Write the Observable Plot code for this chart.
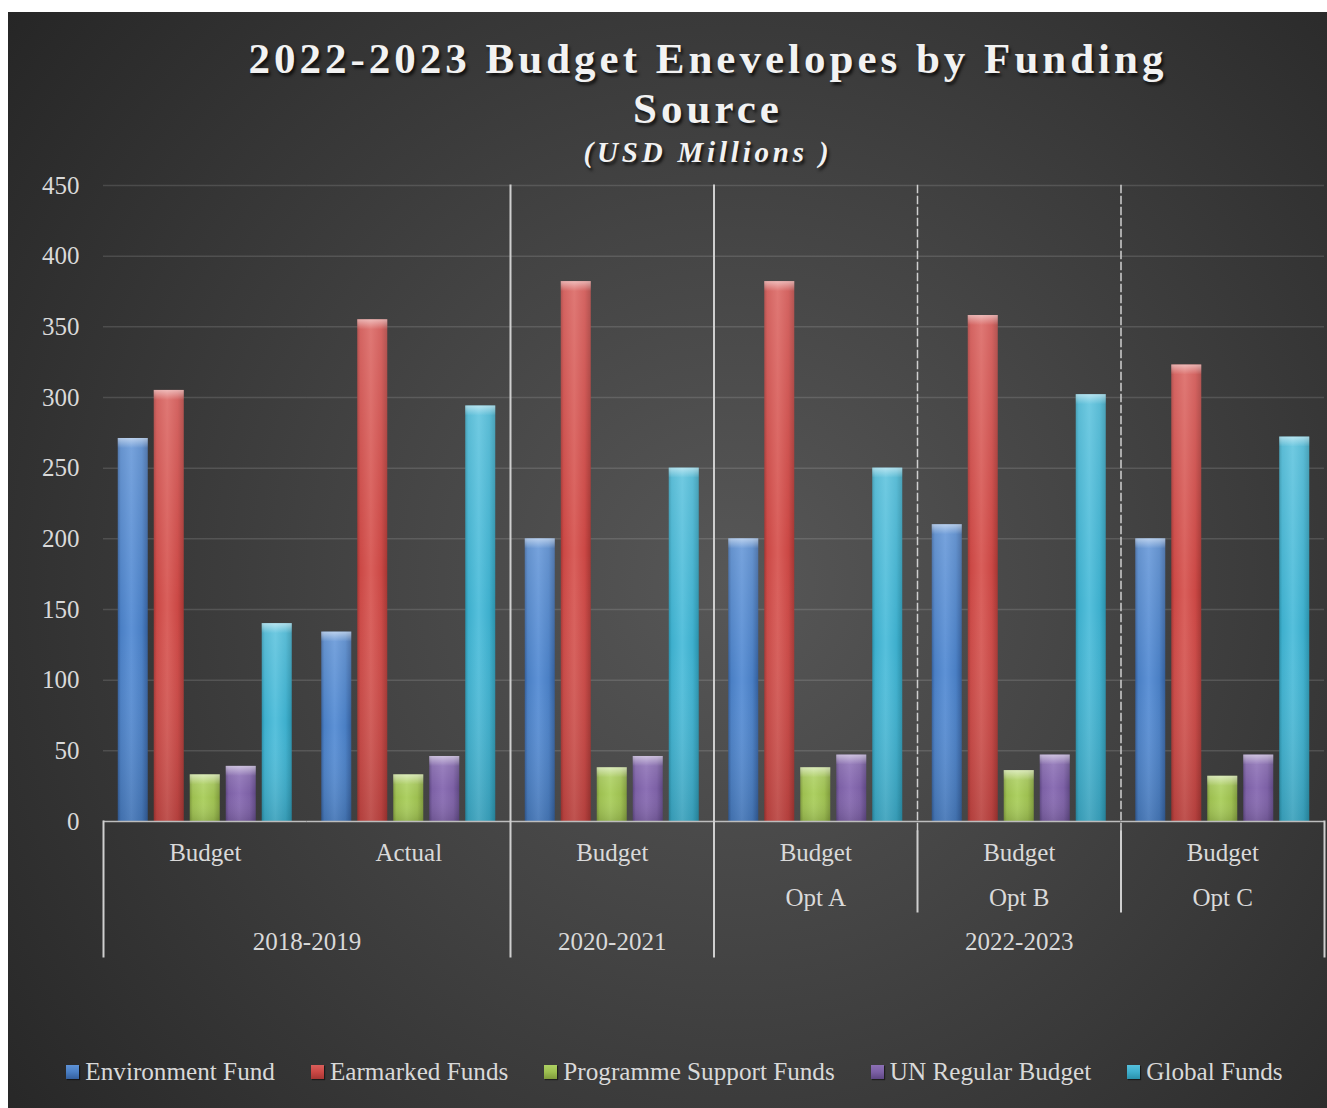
<!DOCTYPE html>
<html>
<head>
<meta charset="utf-8">
<script src="https://cdn.jsdelivr.net/npm/d3@7"></script>
<script src="https://cdn.jsdelivr.net/npm/@observablehq/plot@0.6"></script>
<style>
  html, body { margin: 0; padding: 0; background: #ffffff; }
  #chart {
    position: absolute; left: 8px; top: 12px; width: 1319px; height: 1096px; overflow: hidden;
    background: radial-gradient(circle farthest-corner at 55% 52%, #575757 0%, #444444 40%, #262626 100%);
    font-family: "Liberation Serif", "Times New Roman", serif;
  }
  #title {
    position: absolute; left: 0; width: 1400px; top: 22px; text-align: center;
    font-size: 43px; line-height: 50px; font-weight: bold; letter-spacing: 4px;
    color: #f2f2f2; text-shadow: 2px 3px 3px rgba(0,0,0,0.7);
  }
  #subtitle {
    position: absolute; left: 0; width: 1400px; top: 123px; text-align: center;
    font-size: 29px; line-height: 34px; font-weight: bold; font-style: italic; letter-spacing: 3.8px;
    color: #f2f2f2; text-shadow: 2px 3px 3px rgba(0,0,0,0.7);
  }
  #plot { position: absolute; left: 0; top: 150px; }
  #legend {
    position: absolute; left: 7px; width: 1319px; top: 1043px; height: 34px;
    display: flex; justify-content: center; align-items: center; gap: 36px;
    color: #d9d9d9; font-size: 25.2px;
  }
  .item { display: flex; align-items: center; white-space: nowrap; }
  .sw { width: 13px; height: 14px; margin-right: 6px; box-shadow: 1px 1px 1px rgba(0,0,0,0.5); }
</style>
</head>
<body>
<div id="chart">
  <div id="title">2022-2023 Budget Enevelopes by Funding<br>Source</div>
  <div id="subtitle">(USD Millions )</div>
  <div id="plot"></div>
  <div id="legend"></div>
</div>
<script>
// ---- data ----
const groupKeys = ["2018-2019 Budget", "2018-2019 Actual", "2020-2021 Budget", "2022-2023 Budget Opt A", "2022-2023 Budget Opt B", "2022-2023 Budget Opt C"];
const level1 = ["Budget", "Actual", "Budget", "Budget", "Budget", "Budget"];
const level2 = ["", "", "", "Opt A", "Opt B", "Opt C"];
const periods = ["2018-2019", "2020-2021", "2022-2023"];
const periodFirst = [0, 2, 3];
const periodLast = [1, 2, 5];
const series = ["Environment Fund", "Earmarked Funds", "Programme Support Funds", "UN Regular Budget", "Global Funds"];
const environmentFund = [271, 134, 200, 200, 210, 200];
const earmarkedFunds = [305, 355, 382, 382, 358, 323];
const programmeSupportFunds = [33, 33, 38, 38, 36, 32];
const unRegularBudget = [39, 46, 46, 47, 47, 47];
const globalFunds = [140, 294, 250, 250, 302, 272];
const yTicks = [0, 50, 100, 150, 200, 250, 300, 350, 400, 450];

// colours: [dark edge, base, light]
const seriesColors = [
  ["#345f9c", "#4a7fc4", "#5e92d6"],
  ["#a53633", "#cb4845", "#d95f5b"],
  ["#7e9a3b", "#9dbf50", "#add062"],
  ["#5e4783", "#7c60a5", "#8c70b5"],
  ["#2a91ab", "#3eafcd", "#56c0dc"]
];

const valuesBySeries = [environmentFund, earmarkedFunds, programmeSupportFunds, unRegularBudget, globalFunds];
const rows = [];
groupKeys.forEach((g, gi) => {
  series.forEach((s, si) => rows.push({group: g, series: s, value: valuesBySeries[si][gi]}));
});
const level1Rows = groupKeys.map((g, i) => ({group: g, label: level1[i]}));
const level2Rows = groupKeys.map((g, i) => ({group: g, label: level2[i]})).filter(d => d.label);
// spanning period labels: centre of an odd span is the middle facet, of an even span the edge between the two middle facets
const periodRows = periods.map((p, i) => {
  const n = periodLast[i] - periodFirst[i] + 1;
  const mid = periodFirst[i] + Math.floor((n - 1) / 2);
  return {group: groupKeys[mid], label: p, even: n % 2 === 0};
});

const lineColor = "#cfcfcf";
const labelStyle = {fx: "group", text: "label", textAnchor: "middle", lineAnchor: "middle", fill: "#d9d9d9"};

const chart = Plot.plot({
  width: 1319,
  height: 830,
  marginTop: 23,
  marginBottom: 171,
  marginLeft: 95,
  marginRight: 3,
  style: {background: "transparent", color: "#d9d9d9", fontFamily: "'Liberation Serif', 'Times New Roman', serif", fontSize: "25px", overflow: "visible"},
  fx: {domain: groupKeys, padding: 0, round: false, axis: null},
  x: {domain: series, paddingInner: 1 / 6, paddingOuter: 0.41, round: false, axis: null},
  y: {domain: [0, 450], ticks: yTicks, tickSize: 0, tickPadding: 24, label: null},
  color: {domain: series, range: series.map((_, i) => `url(#body${i})`)},
  marks: [
    Plot.ruleY(yTicks.slice(1), {stroke: "#ffffff", strokeOpacity: 0.13, strokeWidth: 1.5}),
    Plot.barY(rows, {fx: "group", x: "series", y: "value", fill: "series", ariaLabel: "bar-body"}),
    Plot.barY(rows, {fx: "group", x: "series", y: "value", fill: "url(#shade)"}),
    Plot.barY(rows, {fx: "group", x: "series", y1: "value", y2: "value", insetBottom: -10, fill: "url(#cap)"}),
    Plot.ruleY([0], {stroke: "#bdbdbd", strokeWidth: 1.5}),
    // separators in the plot area and the multi-level category box
    Plot.frame({fx: groupKeys[2], anchor: "left", insetBottom: -135, stroke: lineColor, strokeWidth: 2}),
    Plot.frame({fx: groupKeys[3], anchor: "left", insetBottom: -135, stroke: lineColor, strokeWidth: 2}),
    Plot.frame({fx: groupKeys[4], anchor: "left", insetBottom: -10, stroke: lineColor, strokeWidth: 1.5, strokeDasharray: "7,4"}),
    Plot.frame({fx: groupKeys[5], anchor: "left", insetBottom: -10, stroke: lineColor, strokeWidth: 1.5, strokeDasharray: "7,4"}),
    Plot.frame({fx: groupKeys[4], anchor: "left", insetTop: 646, insetBottom: -90, stroke: lineColor, strokeWidth: 2}),
    Plot.frame({fx: groupKeys[5], anchor: "left", insetTop: 646, insetBottom: -90, stroke: lineColor, strokeWidth: 2}),
    Plot.frame({fx: groupKeys[0], anchor: "left", insetTop: 636, insetBottom: -135, stroke: lineColor, strokeWidth: 2}),
    Plot.frame({fx: groupKeys[5], anchor: "right", insetTop: 636, insetBottom: -135, stroke: lineColor, strokeWidth: 2}),
    // category labels
    Plot.text(level1Rows, {...labelStyle, frameAnchor: "bottom", dy: 31}),
    Plot.text(level2Rows, {...labelStyle, frameAnchor: "bottom", dy: 76}),
    Plot.text(periodRows.filter(d => !d.even), {...labelStyle, frameAnchor: "bottom", dy: 120}),
    Plot.text(periodRows.filter(d => d.even), {...labelStyle, frameAnchor: "bottom-right", dy: 120})
  ]
});

// gradients
const svg = d3.select(chart.tagName.toLowerCase() === "svg" ? chart : chart.querySelector("svg"));
const defs = svg.insert("defs", ":first-child");
seriesColors.forEach((c, i) => {
  const g = defs.append("linearGradient").attr("id", `body${i}`).attr("x1", 0).attr("x2", 1).attr("y1", 0).attr("y2", 0);
  [[0, c[0]], [0.1, c[1]], [0.45, c[2]], [0.8, c[1]], [1, c[0]]].forEach(([o, col]) =>
    g.append("stop").attr("offset", o).attr("stop-color", col));
});
const shade = defs.append("linearGradient").attr("id", "shade").attr("x1", 0).attr("x2", 0).attr("y1", 0).attr("y2", 1);
shade.append("stop").attr("offset", 0).attr("stop-color", "#ffffff").attr("stop-opacity", 0.16);
shade.append("stop").attr("offset", 0.5).attr("stop-color", "#ffffff").attr("stop-opacity", 0.0);
shade.append("stop").attr("offset", 1).attr("stop-color", "#000000").attr("stop-opacity", 0.12);
const cap = defs.append("linearGradient").attr("id", "cap").attr("x1", 0).attr("x2", 0).attr("y1", 0).attr("y2", 1);
cap.append("stop").attr("offset", 0).attr("stop-color", "#ffffff").attr("stop-opacity", 0.5);
cap.append("stop").attr("offset", 1).attr("stop-color", "#ffffff").attr("stop-opacity", 0);
svg.selectAll('g[aria-label="bar-body"]').style("filter", "drop-shadow(2px 1px 2px rgba(0,0,0,0.6))");

document.getElementById("plot").appendChild(chart);

// legend
const legend = d3.select("#legend");
series.forEach((s, i) => {
  const it = legend.append("div").attr("class", "item");
  const c = seriesColors[i];
  it.append("div").attr("class", "sw")
    .style("background", `linear-gradient(to bottom, ${c[2]} 0%, ${c[1]} 50%, ${c[0]} 100%)`);
  it.append("span").text(s);
});
</script>
</body>
</html>
